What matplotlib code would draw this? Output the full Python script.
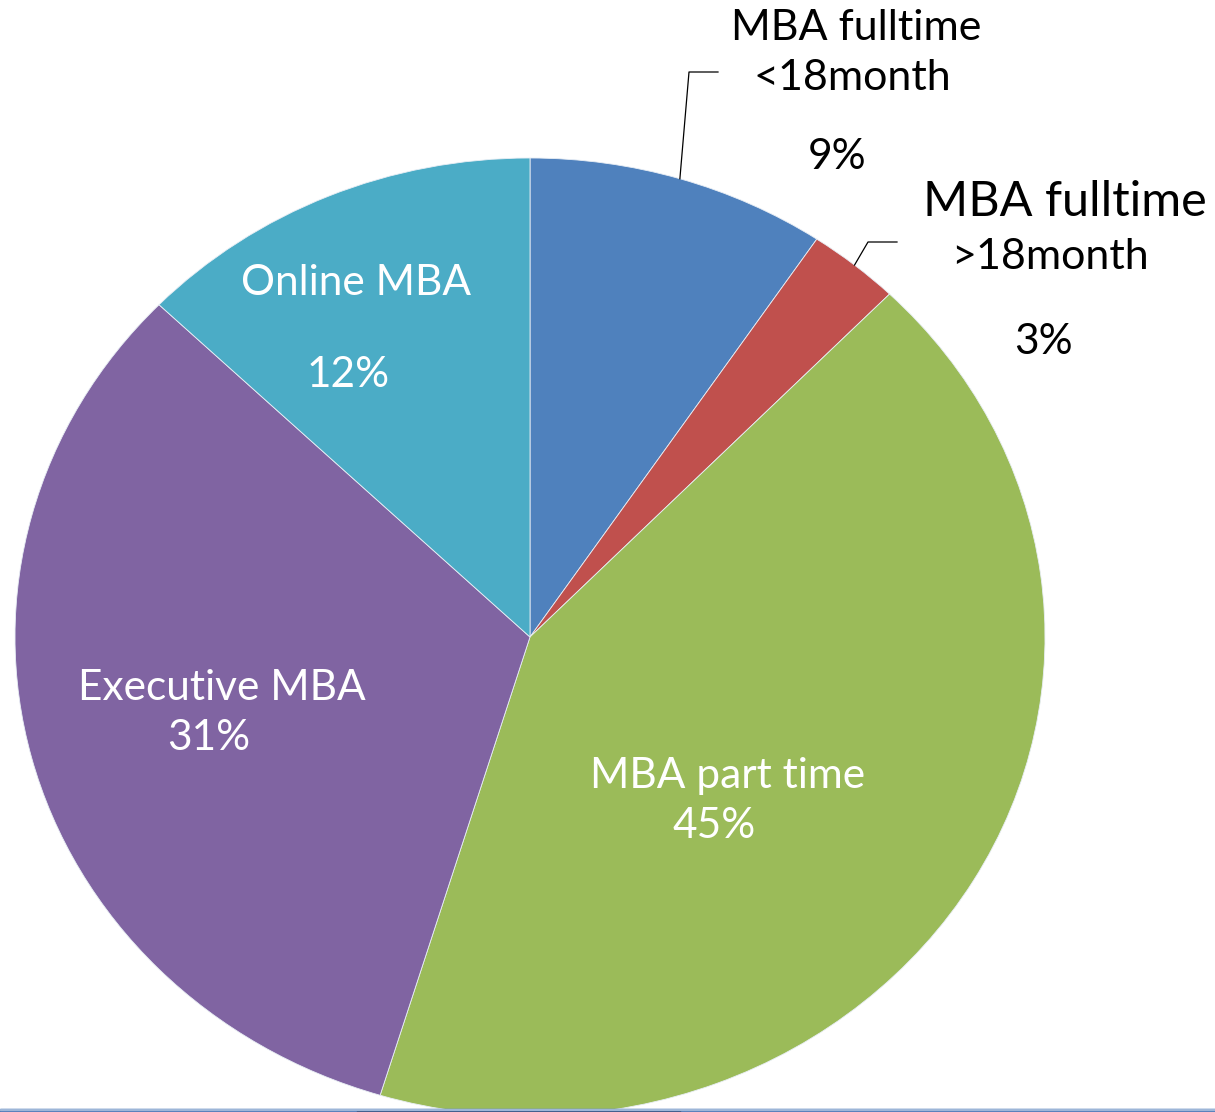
import numpy as np
import matplotlib
matplotlib.use("Agg")
import matplotlib.pyplot as plt
import matplotlib.transforms as mtransforms
from matplotlib.lines import Line2D
from matplotlib.patches import Rectangle

plt.rcParams['font.family'] = ['Lato', 'DejaVu Sans']

# ---- data ----
categories = ["MBA fulltime <18month", "MBA fulltime >18month", "MBA part time",
              "Executive MBA", "Online MBA"]
shares = [9.4, 2.9, 42.4, 32.5, 12.8]          # slice sizes as drawn
pct_labels = ["9%", "3%", "45%", "31%", "12%"]  # printed labels
colors = ["#4F81BD", "#C0504D", "#9BBB59", "#8064A2", "#4BACC6"]

W, H = 1215, 1112
fig = plt.figure(figsize=(W / 100, H / 100), dpi=100)
fig.patch.set_facecolor("white")

# pixel (top-left origin) -> figure transform
pix = mtransforms.Affine2D().scale(1 / W, -1 / H).translate(0, 1) + fig.transFigure

cx, cy, rx, ry = 530, 637, 515, 479
ax = fig.add_axes([(cx - rx) / W, 1 - (cy + ry) / H, 2 * rx / W, 2 * ry / H])
wedges, _ = ax.pie(shares, colors=colors, startangle=90, counterclock=False,
                   radius=1.0, wedgeprops=dict(edgecolor="#e8eef5", linewidth=0.6))
ax.set_aspect("auto")
ax.set_xlim(-1, 1)
ax.set_ylim(-1, 1)
ax.axis("off")

fs = 30.5
# inside labels (white)
inside = [
    (2, "MBA part time", (728, 776), (714, 826)),
    (3, "Executive MBA", (222, 688), (209, 738)),
    (4, "Online MBA", (356, 283), (348, 375)),
]
for i, name, p1, p2 in inside:
    fig.text(p1[0], p1[1], name, transform=pix, ha="center", va="center",
             color="white", fontsize=fs)
    fig.text(p2[0], p2[1], pct_labels[i], transform=pix, ha="center", va="center",
             color="white", fontsize=fs)

# outside labels (black)
fig.text(856, 28, "MBA fulltime", transform=pix, ha="center", va="center", fontsize=fs + 0.5)
fig.text(852, 78, "<18month", transform=pix, ha="center", va="center", fontsize=fs + 0.5)
fig.text(837, 157, pct_labels[0], transform=pix, ha="center", va="center", fontsize=fs)
fig.text(1065, 202, "MBA fulltime", transform=pix, ha="center", va="center", fontsize=35)
fig.text(1050, 257, ">18month", transform=pix, ha="center", va="center", fontsize=fs + 0.5)
fig.text(1043, 342, pct_labels[1], transform=pix, ha="center", va="center", fontsize=fs)

# leader lines from wedge mid-angle to label
inv = pix.inverted()
def leader(idx, elbow, end):
    w = wedges[idx]
    th = np.deg2rad((w.theta1 + w.theta2) / 2)
    sx, sy = inv.transform(ax.transData.transform((np.cos(th), np.sin(th))))
    xs = [sx, elbow[0], end[0]]
    ys = [sy, elbow[1], end[1]]
    fig.add_artist(Line2D(xs, ys, transform=pix, color="black", linewidth=0.9))

leader(0, (689, 72), (718, 72))
leader(1, (868, 242), (897, 242))

# slide border at bottom
fig.add_artist(Rectangle((0, 1109), W, 4, transform=pix, color="#4A76B6", zorder=10))
fig.add_artist(Rectangle((357, 1109.5), 323, 4, transform=pix, color="#2E4C7C", zorder=11))
fig.add_artist(Rectangle((0, 1108.5), W, 1.2, transform=pix, color="#9DB6D8", zorder=12))

fig.savefig("out.png", dpi=100, facecolor="white")
